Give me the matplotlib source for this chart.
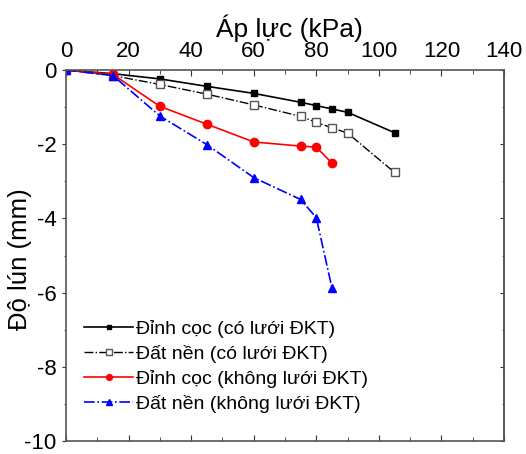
import numpy as np
import matplotlib
matplotlib.use("Agg")
import matplotlib.pyplot as plt
from matplotlib.ticker import MultipleLocator

plt.rcParams['font.family'] = ['Liberation Sans', 'DejaVu Sans']
plt.rcParams['axes.unicode_minus'] = False

# pressure (kPa)
p_cap = [0, 15, 30, 45, 60, 75, 80, 85, 90, 105]
p_red = [0, 15, 30, 45, 60, 75, 80, 85]

# settlement (mm)
s_dinh_co = [0, -0.1, -0.24, -0.44, -0.63, -0.87, -0.96, -1.05, -1.14, -1.69]
s_dat_co = [0, -0.15, -0.39, -0.65, -0.94, -1.25, -1.41, -1.56, -1.70, -2.76]
s_dinh_khong = [0, -0.12, -0.98, -1.46, -1.94, -2.05, -2.08, -2.51]
s_dat_khong = [0, -0.15, -1.24, -2.01, -2.90, -3.49, -3.98, -5.87]

labels = ["Đỉnh cọc (có lưới ĐKT)", "Đất nền (có lưới ĐKT)",
          "Đỉnh cọc (không lưới ĐKT)", "Đất nền (không lưới ĐKT)"]

fig = plt.figure(figsize=(5.26, 4.54), dpi=100)
ax = fig.add_axes([0.1255, 0.0286, 0.8327, 0.8172])

ax.plot(p_cap, s_dinh_co, '-', color='black', marker='s', ms=5, lw=1.2,
        label=labels[0])
ax.plot(p_cap, s_dat_co, '-.', color='black', marker='s', ms=6, lw=1.0,
        mfc='white', mec='#555555', label=labels[1])
ax.plot(p_red, s_dinh_khong, '-', color='red', marker='o', ms=6, lw=1.2,
        label=labels[2])
ax.plot(p_red, s_dat_khong, '-.', color='blue', marker='^', ms=6, lw=1.2,
        label=labels[3])

ax.set_xlim(0, 140)
ax.set_ylim(-10, 0)
ax.xaxis.set_major_locator(MultipleLocator(20))
ax.xaxis.set_minor_locator(MultipleLocator(10))
ax.yaxis.set_major_locator(MultipleLocator(2))
ax.yaxis.set_minor_locator(MultipleLocator(1))
ax.xaxis.tick_top()
ax.xaxis.set_label_position('top')
for sp in ax.spines.values():
    sp.set_color('#555555')
    sp.set_linewidth(1.2)

# top, bottom and right ticks point inward, left ticks point outward
ax.tick_params(axis='x', which='both', direction='in', top=True, bottom=True,
               labelsize=16, color='#333333')
ax.tick_params(axis='x', which='major', length=4, pad=6)
ax.tick_params(axis='x', which='minor', length=3)
ax.tick_params(axis='y', which='both', direction='out', left=True,
               right=False, labelsize=16, color='#333333')
ax.tick_params(axis='y', which='major', length=3, pad=4)
ax.tick_params(axis='y', which='minor', length=1.5)
ax2 = ax.secondary_yaxis('right')
ax2.yaxis.set_major_locator(MultipleLocator(2))
ax2.yaxis.set_minor_locator(MultipleLocator(1))
ax2.tick_params(which='both', direction='in', labelright=False,
                color='#333333')
ax2.tick_params(which='major', length=3)
ax2.tick_params(which='minor', length=1.5)
ax2.spines['right'].set_color('#555555')
ax2.spines['right'].set_linewidth(1.2)

ax.set_xlabel('Áp lực (kPa)', fontsize=19, labelpad=4)
ax.xaxis.set_label_coords(0.51, 1.09)
ax.set_ylabel('Độ lún (mm)', fontsize=18.5)
ax.yaxis.set_label_coords(-0.077, 0.49)

ax.legend(loc='lower left', bbox_to_anchor=(0.015, 0.045), frameon=False,
          fontsize=14, handlelength=2.5, handletextpad=0.15,
          labelspacing=0.35, borderaxespad=0.2, markerscale=0.7)

fig.savefig("out.png", dpi=100)
